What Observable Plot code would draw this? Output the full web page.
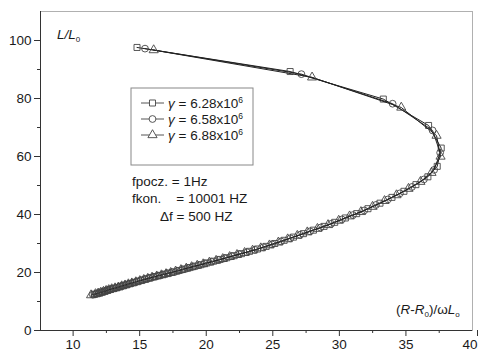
<!DOCTYPE html>
<html>
<head>
<meta charset="utf-8">
<script src="https://cdn.jsdelivr.net/npm/d3@7"></script>
<script src="https://cdn.jsdelivr.net/npm/@observablehq/plot@0.6"></script>
<style>
  html, body { margin: 0; padding: 0; background: #fff; }
  #chart { width: 478px; height: 354px; }
  svg { font-family: "Liberation Sans", Arial, sans-serif; }
</style>
</head>
<body>
<div id="chart"></div>
<script>
// Impedance locus L/L0 against (R-R0)/ωL0, one series per conductivity γ
const gammaLabels = ["6.28", "6.58", "6.88"];
const symbols = ["square", "circle", "triangle"];

const sqX = [14.8, 26.3, 33.3, 36.7, 37.65, 37.35, 36.65, 35.75, 34.85, 33.95,
  33.05, 32.15, 31.3, 30.45, 29.65, 28.85, 28.05, 27.3, 26.55, 25.85,
  25.15, 24.5, 23.85, 23.25, 22.65, 22.1, 21.55, 21.05, 20.55, 20.05,
  19.6, 19.15, 18.75, 18.35, 17.95, 17.55, 17.2, 16.85, 16.5, 16.15,
  15.8, 15.5, 15.2, 14.9, 14.6, 14.3, 14.05, 13.8, 13.55, 13.3,
  13.05, 12.8, 12.6, 12.4, 12.2, 12.0, 11.8, 11.6];
const sqY = [97.6, 89.3, 79.8, 70.7, 62.9, 56.6, 53.0, 50.3, 48.0, 45.9,
  43.9, 42.0, 40.3, 38.8, 37.3, 35.9, 34.6, 33.4, 32.2, 31.1,
  30.0, 29.0, 28.1, 27.3, 26.5, 25.8, 25.1, 24.5, 23.9, 23.3,
  22.7, 22.2, 21.7, 21.2, 20.7, 20.2, 19.8, 19.4, 19.0, 18.6,
  18.2, 17.8, 17.4, 17.0, 16.6, 16.2, 15.9, 15.5, 15.2, 14.8,
  14.5, 14.2, 13.9, 13.6, 13.3, 13.0, 12.7, 12.5];

const ciX = [15.4, 27.15, 34.0, 37.0, 37.57, 37.12, 36.35, 35.45, 34.55, 33.65,
  32.75, 31.87, 31.02, 30.19, 29.39, 28.59, 27.8, 27.05, 26.32, 25.62,
  24.94, 24.29, 23.65, 23.05, 22.47, 21.92, 21.39, 20.89, 20.39, 19.9,
  19.45, 19.02, 18.62, 18.22, 17.82, 17.43, 17.08, 16.73, 16.38, 16.03,
  15.7, 15.4, 15.1, 14.8, 14.5, 14.22, 13.97, 13.72, 13.47, 13.22,
  12.97, 12.73, 12.53, 12.33, 12.13, 11.93, 11.73, 11.48];
const ciY = [97.2, 88.4, 78.2, 69.0, 61.3, 55.4, 52.1, 49.5, 47.3, 45.2,
  43.3, 41.4, 39.8, 38.3, 36.8, 35.5, 34.2, 33.0, 31.8, 30.7,
  29.7, 28.7, 27.8, 27.0, 26.3, 25.6, 24.9, 24.3, 23.7, 23.1,
  22.5, 22.0, 21.5, 21.0, 20.5, 20.1, 19.7, 19.3, 18.9, 18.5,
  18.1, 17.7, 17.3, 16.9, 16.5, 16.1, 15.8, 15.4, 15.1, 14.7,
  14.4, 14.1, 13.8, 13.5, 13.2, 12.9, 12.6, 12.35];

const trX = [16.05, 27.95, 34.65, 37.3, 37.6, 36.92, 36.09, 35.19, 34.29, 33.39,
  32.49, 31.62, 30.77, 29.95, 29.15, 28.35, 27.59, 26.84, 26.12, 25.42,
  24.75, 24.1, 23.48, 22.88, 22.31, 21.76, 21.24, 20.74, 20.24, 19.77,
  19.32, 18.9, 18.5, 18.1, 17.7, 17.33, 16.98, 16.63, 16.28, 15.93,
  15.61, 15.31, 15.01, 14.71, 14.41, 14.15, 13.9, 13.65, 13.4, 13.15,
  12.9, 12.68, 12.48, 12.28, 12.08, 11.88, 11.68, 11.35];
const trY = [96.7, 87.3, 76.9, 67.2, 60.0, 54.4, 51.3, 48.9, 46.7, 44.7,
  42.7, 40.9, 39.4, 37.9, 36.4, 35.1, 33.9, 32.7, 31.5, 30.4,
  29.4, 28.4, 27.6, 26.8, 26.1, 25.4, 24.7, 24.1, 23.5, 22.9,
  22.4, 21.9, 21.4, 20.9, 20.4, 19.9, 19.5, 19.1, 18.7, 18.3,
  17.9, 17.5, 17.1, 16.7, 16.3, 16.0, 15.6, 15.3, 14.9, 14.6,
  14.3, 14.0, 13.7, 13.4, 13.1, 12.8, 12.6, 12.2];

const xTicks = [10, 15, 20, 25, 30, 35];
const xLastTick = [40];
const xMinor = [12.5, 17.5, 22.5, 27.5, 32.5, 37.5];
const yTicks = [0, 20, 40, 60, 80, 100];
const yMinor = [10, 30, 50, 70, 90];

const notes = ["fpocz. = 1Hz", "fkon.    = 10001 HZ", "\u0394f = 500 HZ"];

const seriesXY = [[sqX, sqY], [ciX, ciY], [trX, trY]];
const series = seriesXY.map(([xs, ys], k) =>
  xs.map((x, i) => ({x, y: ys[i], s: k})));

const markStroke = "#454545";
const tickFont = 13.5;
const marks = [
  Plot.frame({stroke: "#b0b0b0", strokeWidth: 1}),
  Plot.ruleX([7.55], {stroke: "#333", strokeWidth: 1}),
  Plot.ruleY([0], {stroke: "#333", strokeWidth: 1}),
  Plot.axisX({ticks: xTicks, tickSize: 6, tickPadding: 3, fontSize: tickFont, stroke: "#333", color: "#1a1a1a", label: null}),
  // rightmost label nudged inward so it stays inside the page
  Plot.axisX({ticks: xLastTick, tickSize: 6, tickPadding: 3, fontSize: tickFont, stroke: "#333", color: "#1a1a1a", label: null, textAnchor: "end", dx: 5}),
  Plot.axisX({ticks: xMinor, tickSize: 3, text: null, stroke: "#333", label: null}),
  Plot.axisY({ticks: yTicks, tickSize: 6, tickPadding: 3, fontSize: tickFont, stroke: "#333", color: "#1a1a1a", label: null}),
  Plot.axisY({ticks: yMinor, tickSize: 3, text: null, stroke: "#333", label: null})
];
series.forEach((data, k) => {
  marks.push(Plot.line(data, {x: "x", y: "y", stroke: "#222", strokeWidth: 1}));
  marks.push(Plot.dot(data, {x: "x", y: "y", symbol: () => symbols[k], r: 3.4,
    fill: "none", stroke: markStroke, strokeWidth: 0.9}));
});

const chart = Plot.plot({
  width: 478,
  height: 354,
  marginLeft: 40,
  marginRight: 6,
  marginTop: 11,
  marginBottom: 24,
  style: {fontFamily: "Liberation Sans, Arial, sans-serif", background: "white"},
  x: {domain: [7.55, 40], label: null},
  y: {domain: [0, 110], label: null},
  marks
});
document.getElementById("chart").appendChild(chart);

// Annotations: axis titles, legend box and sweep settings
const svg = d3.select(chart);
const g = svg.append("g").attr("fill", "#1a1a1a").attr("font-size", 13.5)
  .attr("text-anchor", "start");

const yTitle = g.append("text").attr("x", 57).attr("y", 39).attr("font-style", "italic");
yTitle.append("tspan").text("L/L");
yTitle.append("tspan").attr("font-size", 8).attr("dy", 3).attr("font-style", "normal").text("0");

const xTitle = g.append("text").attr("x", 396).attr("y", 314);
xTitle.append("tspan").text("(");
xTitle.append("tspan").attr("font-style", "italic").text("R");
xTitle.append("tspan").text("-");
xTitle.append("tspan").attr("font-style", "italic").text("R");
xTitle.append("tspan").attr("font-size", 8).attr("dy", 3).text("0");
xTitle.append("tspan").attr("dy", -3).text(")/\u03c9");
xTitle.append("tspan").attr("font-style", "italic").text("L");
xTitle.append("tspan").attr("font-size", 8).attr("dy", 3).text("o");

g.append("rect").attr("x", 131).attr("y", 88).attr("width", 122).attr("height", 77)
  .attr("fill", "white").attr("stroke", "#888").attr("stroke-width", 1);

const symGen = {square: d3.symbolSquare, circle: d3.symbolCircle, triangle: d3.symbolTriangle};
gammaLabels.forEach((lab, k) => {
  const cy = 103 + 16 * k;
  g.append("line").attr("x1", 141).attr("x2", 164).attr("y1", cy).attr("y2", cy)
    .attr("stroke", "#555").attr("stroke-width", 1);
  g.append("path").attr("transform", `translate(152.5,${cy})`)
    .attr("d", d3.symbol(symGen[symbols[k]], Math.PI * 3.4 * 3.4)())
    .attr("fill", "white").attr("stroke", markStroke).attr("stroke-width", 0.9);
  const t = g.append("text").attr("x", 168).attr("y", cy + 4.5).attr("font-size", 13.5);
  t.append("tspan").attr("font-style", "italic").text("\u03b3");
  t.append("tspan").text(" = " + lab + "x10");
  t.append("tspan").attr("font-size", 8.5).attr("dy", -5).text("6");
});

g.append("text").attr("x", 132).attr("y", 186).text(notes[0]);
g.append("text").attr("x", 132).attr("y", 203).style("white-space", "pre").text(notes[1]);
g.append("text").attr("x", 160).attr("y", 221).text(notes[2]);
</script>
</body>
</html>
